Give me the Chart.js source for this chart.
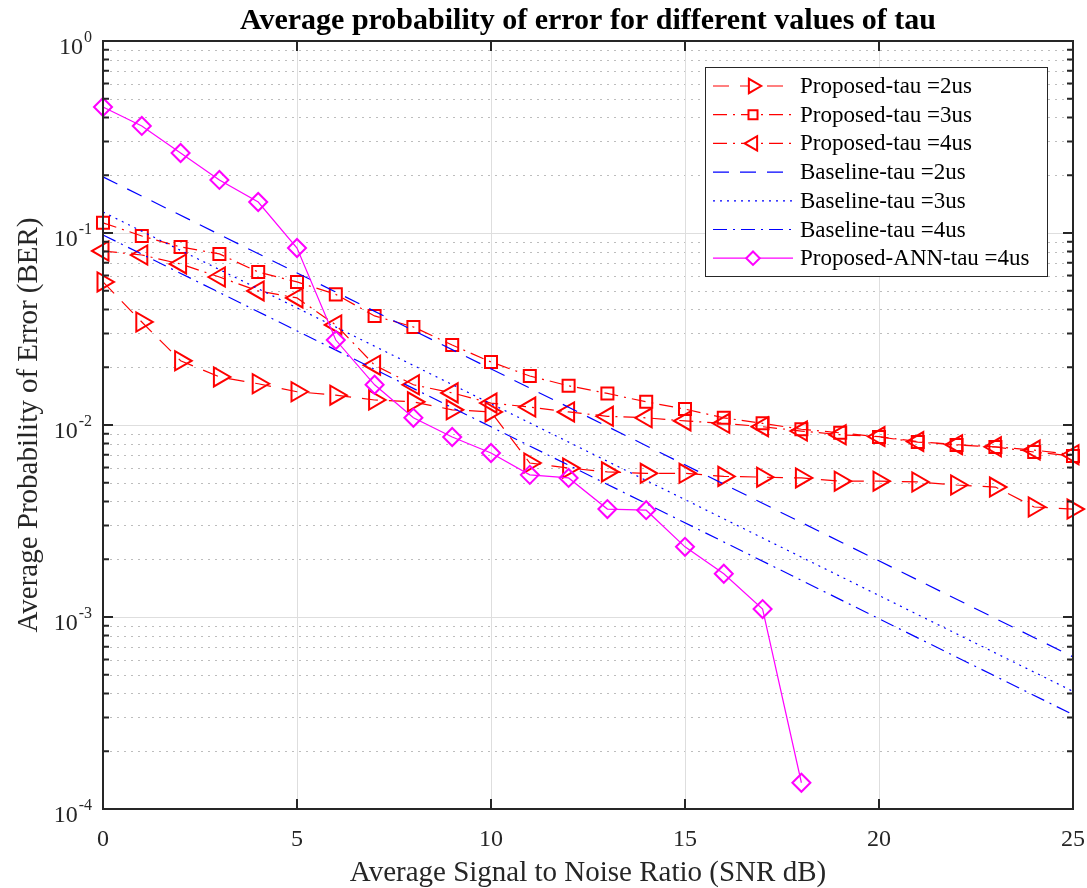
<!DOCTYPE html>
<html>
<head>
<meta charset="utf-8">
<script src="https://cdn.jsdelivr.net/npm/chart.js@4.4.0/dist/chart.umd.min.js"></script>
<style>
  html, body { margin: 0; padding: 0; background: #fff; }
  #wrap { width: 1087px; height: 888px; }
</style>
</head>
<body>
<div id="wrap"><canvas id="berChart" width="1087" height="888"></canvas></div>
<script>
// values
const snr = [0, 1, 2, 3, 4, 5, 6, 7, 8, 9, 10, 11, 12, 13, 14, 15, 16, 17, 18, 19, 20, 21, 22, 23, 24, 25];
const snrAnn = [0, 1, 2, 3, 4, 5, 6, 7, 8, 9, 10, 11, 12, 13, 14, 15, 16, 17, 18];
const snrEnds = [0, 25];

const proposed2 = [0.0556, 0.0344, 0.0216, 0.0178, 0.0164, 0.0149, 0.0143, 0.0135, 0.0132, 0.0120, 0.0117, 0.00634, 0.00597, 0.0057, 0.0056, 0.0056, 0.0054, 0.00535, 0.0053, 0.0051, 0.0051, 0.00505, 0.00487, 0.00475, 0.00374, 0.00365];
const proposed3 = [0.113, 0.0965, 0.0846, 0.0778, 0.0626, 0.0556, 0.0479, 0.037, 0.0324, 0.0261, 0.0213, 0.018, 0.016, 0.0146, 0.0132, 0.0121, 0.0109, 0.0102, 0.0095, 0.0091, 0.00866, 0.00815, 0.00787, 0.00768, 0.00723, 0.0069];
const proposed4 = [0.0806, 0.0768, 0.069, 0.059, 0.0499, 0.0459, 0.0332, 0.0205, 0.0162, 0.0147, 0.013, 0.0124, 0.0117, 0.0111, 0.0109, 0.0105, 0.0102, 0.0098, 0.0093, 0.0089, 0.0087, 0.0082, 0.0079, 0.0077, 0.0074, 0.0070];
const baseline2 = [0.196, 0.00062];
const baseline3 = [0.1286, 0.00041];
const baseline4 = [0.0977, 0.00031];
const annTau4 = [0.453, 0.361, 0.261, 0.189, 0.145, 0.0835, 0.0277, 0.0162, 0.0109, 0.00866, 0.00715, 0.0055, 0.0053, 0.00365, 0.0036, 0.00232, 0.00168, 0.0011, 0.000137];

const yTickExps = [0, -1, -2, -3, -4];
const xTicks = [0, 5, 10, 15, 20, 25];

const FONT = "'Liberation Serif', 'Times New Roman', serif";
const AXIS = "#262626";
const RED = "#ff0000";
const BLUE = "#0000ff";
const MAGENTA = "#ff00ff";

const DASH = [16, 11];
const DOT = [2, 5];
const DASHDOT = [14, 6, 2, 6];

function toPoints(xs, ys) {
  return ys.map((v, i) => ({ x: xs[i], y: v }));
}

function series(label, xs, ys, color, dash, marker, rotation, radius, order) {
  return {
    label: label,
    data: toPoints(xs, ys),
    borderColor: color,
    backgroundColor: "rgba(0,0,0,0)",
    borderWidth: 1.2,
    borderDash: dash,
    pointStyle: marker || false,
    pointRotation: rotation || 0,
    pointRadius: marker ? radius : 0,
    pointHoverRadius: marker ? radius : 0,
    pointBorderWidth: 2,
    pointBorderColor: color,
    pointBackgroundColor: "rgba(0,0,0,0)",
    tension: 0,
    clip: false,
    order: order
  };
}

const datasets = [
  series("Proposed-tau =2us", snr, proposed2, RED, DASH, "triangle", 90, 11, 6),
  series("Proposed-tau =3us", snr, proposed3, RED, DASHDOT, "rect", 0, 8.5, 5),
  series("Proposed-tau =4us", snr, proposed4, RED, DASHDOT, "triangle", 270, 11, 4),
  series("Baseline-tau =2us", snrEnds, baseline2, BLUE, DASH, null, 0, 0, 3),
  series("Baseline-tau =3us", snrEnds, baseline3, BLUE, DOT, null, 0, 0, 2),
  series("Baseline-tau =4us", snrEnds, baseline4, BLUE, DASHDOT, null, 0, 0, 1),
  series("Proposed-ANN-tau =4us", snrAnn, annTau4, MAGENTA, [], "rectRot", 0, 9, 0)
];

// grid drawn under the data: solid major lines, dotted minor lines
const gridPlugin = {
  id: "matlabGrid",
  beforeDatasetsDraw(chart) {
    const { ctx, chartArea: a, scales: { x, y } } = chart;
    ctx.save();
    ctx.lineWidth = 1;
    // minor horizontal (dotted)
    ctx.strokeStyle = "#bdbdbd";
    ctx.setLineDash([2, 5]);
    for (let e = -4; e < 0; e++) {
      for (let m = 2; m <= 9; m++) {
        const py = Math.round(y.getPixelForValue(m * Math.pow(10, e))) + 0.5;
        ctx.beginPath();
        ctx.moveTo(a.left, py);
        ctx.lineTo(a.right, py);
        ctx.stroke();
      }
    }
    // major lines
    ctx.setLineDash([]);
    ctx.strokeStyle = "#dedede";
    yTickExps.forEach((e) => {
      const py = Math.round(y.getPixelForValue(Math.pow(10, e))) + 0.5;
      ctx.beginPath();
      ctx.moveTo(a.left, py);
      ctx.lineTo(a.right, py);
      ctx.stroke();
    });
    xTicks.forEach((v) => {
      const px = Math.round(x.getPixelForValue(v)) + 0.5;
      ctx.beginPath();
      ctx.moveTo(px, a.top);
      ctx.lineTo(px, a.bottom);
      ctx.stroke();
    });
    ctx.restore();
  },
  afterDatasetsDraw(chart) {
    const { ctx, chartArea: a, scales: { x, y } } = chart;
    ctx.save();
    // axes box
    ctx.strokeStyle = AXIS;
    ctx.lineWidth = 2;
    ctx.strokeRect(a.left, a.top, a.right - a.left, a.bottom - a.top);
    // ticks pointing inwards
    xTicks.forEach((v) => {
      const px = x.getPixelForValue(v);
      ctx.beginPath();
      ctx.moveTo(px, a.bottom);
      ctx.lineTo(px, a.bottom - 10);
      ctx.moveTo(px, a.top);
      ctx.lineTo(px, a.top + 10);
      ctx.stroke();
    });
    for (let e = -4; e <= 0; e++) {
      for (let m = 1; m <= 9; m++) {
        if (e === 0 && m > 1) break;
        const py = y.getPixelForValue(m * Math.pow(10, e));
        const len = m === 1 ? 10 : 6;
        ctx.beginPath();
        ctx.moveTo(a.left, py);
        ctx.lineTo(a.left + len, py);
        ctx.moveTo(a.right, py);
        ctx.lineTo(a.right - len, py);
        ctx.stroke();
      }
    }
    // y tick labels with superscript exponent
    ctx.fillStyle = AXIS;
    ctx.textBaseline = "alphabetic";
    ctx.textAlign = "left";
    yTickExps.forEach((e) => {
      const py = y.getPixelForValue(Math.pow(10, e));
      const exp = String(e);
      ctx.font = "24px " + FONT;
      const wBase = ctx.measureText("10").width;
      ctx.font = "16px " + FONT;
      const wExp = ctx.measureText(exp).width;
      const right = a.left - 11;
      const left = right - wBase - 1 - wExp;
      ctx.font = "24px " + FONT;
      ctx.fillText("10", left, py + 13);
      ctx.font = "16px " + FONT;
      ctx.fillText(exp, left + wBase + 1, py + 1);
    });
    ctx.restore();
  }
};

// legend box in the top right corner, like the figure
const legendPlugin = {
  id: "matlabLegend",
  afterDraw(chart) {
    const { ctx } = chart;
    const box = { left: 705, top: 67, right: 1047, bottom: 276 };
    ctx.save();
    ctx.fillStyle = "#ffffff";
    ctx.fillRect(box.left, box.top, box.right - box.left, box.bottom - box.top);
    ctx.strokeStyle = AXIS;
    ctx.lineWidth = 1;
    ctx.strokeRect(box.left + 0.5, box.top + 0.5, box.right - box.left, box.bottom - box.top);
    chart.data.datasets.forEach((ds, i) => {
      const cy = 86 + i * 28.7;
      ctx.strokeStyle = ds.borderColor;
      ctx.lineWidth = 1.2;
      ctx.setLineDash(ds.borderDash);
      ctx.beginPath();
      ctx.moveTo(713, cy);
      ctx.lineTo(793, cy);
      ctx.stroke();
      ctx.setLineDash([]);
      if (ds.pointStyle) {
        ctx.strokeStyle = ds.borderColor;
        ctx.fillStyle = "#ffffff";
        ctx.lineWidth = 2;
        Chart.helpers.drawPoint(ctx, {
          pointStyle: ds.pointStyle,
          rotation: ds.pointRotation,
          radius: ds.pointRadius * 0.75,
          borderWidth: 2
        }, 753, cy);
      }
      ctx.fillStyle = "#000000";
      ctx.font = "23px " + FONT;
      ctx.textAlign = "left";
      ctx.textBaseline = "middle";
      ctx.fillText(ds.label, 800, cy + 1);
    });
    ctx.restore();
  }
};

const ctx = document.getElementById("berChart").getContext("2d");
const berChart = new Chart(ctx, {
  type: "line",
  data: { datasets: datasets },
  plugins: [gridPlugin, legendPlugin],
  options: {
    responsive: false,
    animation: false,
    events: [],
    layout: { padding: { left: 0, right: 14, top: 0, bottom: 0 } },
    plugins: {
      legend: { display: false },
      tooltip: { enabled: false },
      title: {
        display: true,
        fullSize: false,
        text: "Average probability of error for different values of tau",
        color: "#000000",
        font: { family: FONT, size: 30, weight: "bold" },
        padding: { top: 3, bottom: 2 }
      }
    },
    scales: {
      x: {
        type: "linear",
        min: 0,
        max: 25,
        grid: { display: false },
        border: { display: false },
        ticks: {
          stepSize: 5,
          padding: 8,
          color: AXIS,
          font: { family: FONT, size: 24 },
          maxRotation: 0
        },
        title: {
          display: true,
          text: "Average Signal to Noise Ratio (SNR dB)",
          color: AXIS,
          font: { family: FONT, size: 29, lineHeight: 1 },
          padding: { top: 0, bottom: 0 }
        },
        afterFit(scale) {
          scale.height = 79;
          scale.paddingLeft = 0;
          scale.paddingRight = 0;
        }
      },
      y: {
        type: "logarithmic",
        min: 1e-4,
        max: 1,
        grid: { display: false },
        border: { display: false },
        ticks: { display: false },
        title: {
          display: true,
          text: "Average Probability of Error (BER)",
          color: AXIS,
          font: { family: FONT, size: 29 },
          padding: { top: 12, bottom: 0 }
        },
        afterFit(scale) { scale.width = 103; }
      }
    }
  }
});
</script>
</body>
</html>
